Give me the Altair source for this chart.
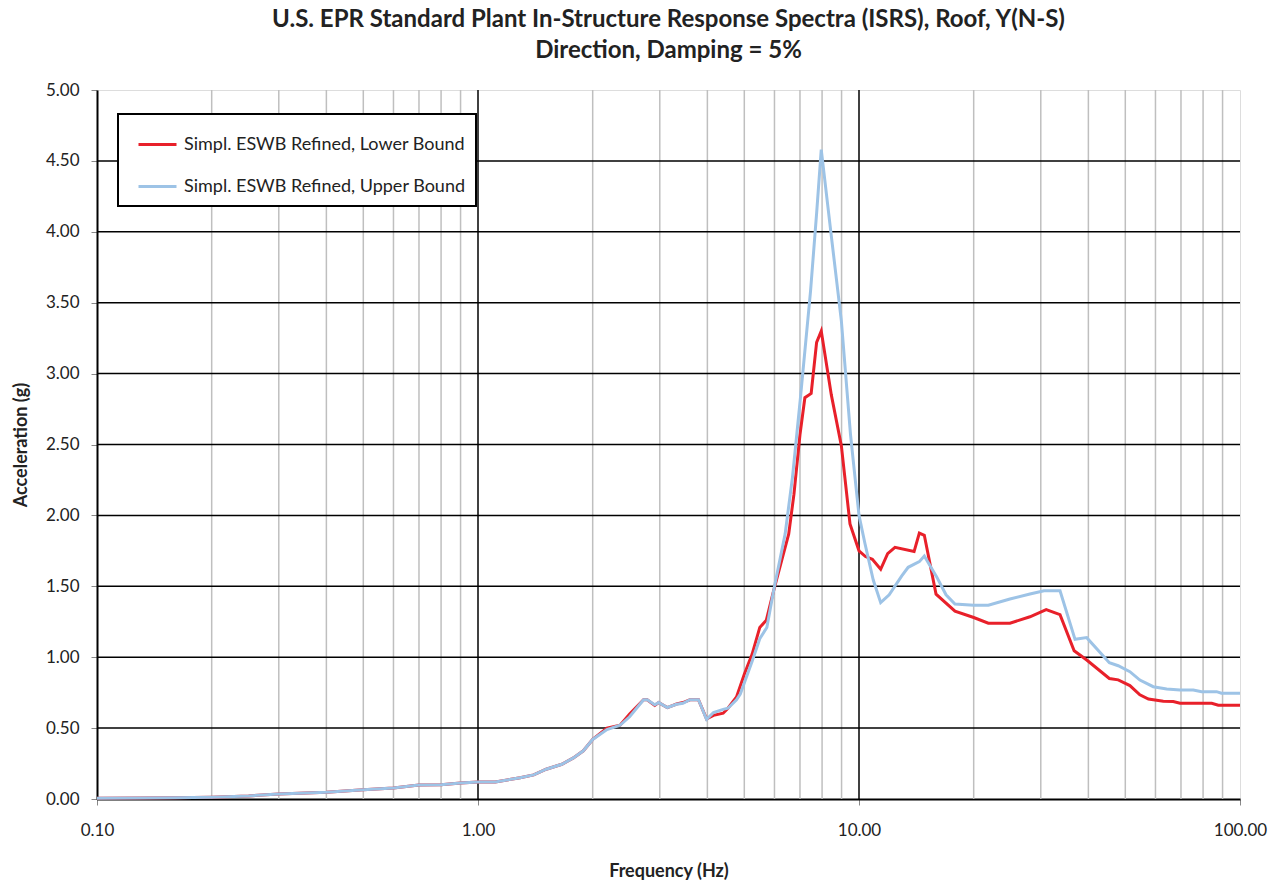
import altair as alt
import pandas as pd

# ---- data ----
series_names = ["Simpl. ESWB Refined, Lower Bound", "Simpl. ESWB Refined, Upper Bound"]

low_freq = [0.1, 0.13, 0.16, 0.2, 0.25, 0.3, 0.4, 0.5, 0.6, 0.7, 0.8, 0.9, 1.0, 1.11, 1.29, 1.4,
            1.51, 1.66, 1.78, 1.89, 2.0, 2.18, 2.36, 2.5, 2.72, 2.78, 2.91, 2.98, 3.14, 3.32, 3.45,
            3.6, 3.79, 3.98, 4.15, 4.4, 4.53, 4.77, 5.0, 5.24, 5.49, 5.71, 5.97, 6.25, 6.54, 6.75,
            7.0, 7.21, 7.49, 7.74, 7.96, 8.46, 8.99, 9.47, 10.0, 10.4, 10.84, 11.4, 11.89, 12.43,
            13.95, 14.4, 14.84, 15.93, 17.86, 20.0, 21.85, 24.9, 28.1, 31.0, 33.7, 36.7, 39.6,
            45.4, 47.9, 51.4, 54.6, 57.5, 62.9, 66.8, 69.6, 84.3, 87.7, 100.0]
low_acc = [0.005, 0.007, 0.009, 0.013, 0.022, 0.035, 0.048, 0.065, 0.078, 0.098, 0.100, 0.112,
           0.120, 0.120, 0.150, 0.170, 0.210, 0.245, 0.290, 0.340, 0.420, 0.500, 0.520, 0.600,
           0.700, 0.700, 0.660, 0.680, 0.645, 0.670, 0.680, 0.700, 0.700, 0.565, 0.590, 0.605,
           0.640, 0.720, 0.880, 1.020, 1.210, 1.260, 1.470, 1.670, 1.870, 2.150, 2.570, 2.830,
           2.860, 3.220, 3.300, 2.850, 2.490, 1.940, 1.750, 1.710, 1.690, 1.620, 1.730, 1.775,
           1.745, 1.875, 1.860, 1.445, 1.325, 1.280, 1.240, 1.240, 1.285, 1.335, 1.300, 1.045,
           0.980, 0.850, 0.840, 0.800, 0.735, 0.705, 0.690, 0.687, 0.675, 0.675, 0.661, 0.661]

up_freq = [0.1, 0.13, 0.16, 0.2, 0.25, 0.3, 0.4, 0.5, 0.6, 0.7, 0.8, 0.9, 1.0, 1.11, 1.29, 1.4,
           1.51, 1.66, 1.78, 1.89, 2.0, 2.18, 2.36, 2.5, 2.72, 2.78, 2.91, 2.98, 3.14, 3.32, 3.45,
           3.6, 3.79, 3.98, 4.15, 4.4, 4.53, 4.77, 4.88, 5.24, 5.49, 5.73, 5.97, 6.4, 6.69, 7.02,
           7.46, 7.74, 7.96, 8.46, 8.99, 9.5, 10.0, 10.37, 10.9, 11.4, 12.0, 12.95, 13.46, 14.4,
           14.84, 15.98, 16.92, 17.86, 20.0, 21.85, 24.9, 28.1, 30.6, 33.7, 36.9, 39.6, 45.4,
           47.9, 51.4, 54.6, 59.2, 64.2, 69.6, 75.4, 79.3, 86.8, 89.4, 100.0]
up_acc = [0.005, 0.007, 0.009, 0.013, 0.022, 0.035, 0.048, 0.065, 0.078, 0.098, 0.100, 0.112,
          0.120, 0.120, 0.150, 0.170, 0.210, 0.245, 0.290, 0.340, 0.420, 0.490, 0.520, 0.580,
          0.700, 0.700, 0.665, 0.680, 0.645, 0.668, 0.675, 0.700, 0.700, 0.562, 0.610, 0.632,
          0.640, 0.700, 0.740, 0.970, 1.130, 1.210, 1.470, 1.870, 2.270, 2.830, 3.580, 4.130,
          4.580, 3.970, 3.370, 2.570, 2.000, 1.800, 1.544, 1.385, 1.440, 1.573, 1.634, 1.674,
          1.714, 1.568, 1.440, 1.375, 1.366, 1.366, 1.410, 1.446, 1.469, 1.469, 1.126, 1.138,
          0.961, 0.940, 0.898, 0.839, 0.792, 0.776, 0.769, 0.769, 0.757, 0.757, 0.746, 0.746]

x_ticks = [0.1, 1, 10, 100]
y_ticks = [0.0, 0.5, 1.0, 1.5, 2.0, 2.5, 3.0, 3.5, 4.0, 4.5, 5.0]
minor_x_grid = [0.2, 0.3, 0.4, 0.5, 0.6, 0.7, 0.8, 0.9, 2, 3, 4, 5, 6, 7, 8, 9,
                20, 30, 40, 50, 60, 70, 80, 90]
major_x_grid = [1, 10]
major_y_grid = [0.5, 1.0, 1.5, 2.0, 2.5, 3.0, 3.5, 4.0, 4.5]

title_lines = ["U.S. EPR Standard Plant In-Structure Response Spectra (ISRS), Roof, Y(N-S)",
               "Direction, Damping = 5%"]

# ---- build tables ----
df = pd.concat([
    pd.DataFrame({"freq": low_freq, "acc": low_acc, "series": series_names[0], "order": range(len(low_freq))}),
    pd.DataFrame({"freq": up_freq, "acc": up_acc, "series": series_names[1], "order": range(len(up_freq))}),
])

FONT = "Lato"
TXT = "#222222"
xscale = alt.Scale(type="log", domain=[0.1, 100], nice=False)
yscale = alt.Scale(domain=[0, 5], nice=False)

xaxis = alt.Axis(title="Frequency (Hz)", values=x_ticks, labelExpr="format(datum.value, '.2f')",
                 grid=False, tickSize=6, tickColor="#888888", domainColor="#000000",
                 domainWidth=2, labelFontSize=17, labelPadding=17, labelFont=FONT,
                 labelColor=TXT, titleFont=FONT, titleFontSize=18, titleFontWeight="bold",
                 titleColor=TXT, titlePadding=24, labelFlush=False)
yaxis = alt.Axis(title="Acceleration (g)", values=y_ticks, format=".2f", grid=False,
                 tickSize=6, tickColor="#888888", domainColor="#000000", domainWidth=2,
                 labelFontSize=17, labelPadding=12, labelFont=FONT, labelColor=TXT,
                 titleFont=FONT, titleFontSize=18, titleFontWeight="bold",
                 titleColor=TXT, titlePadding=15)

minor = alt.Chart(pd.DataFrame({"freq": minor_x_grid})).mark_rule(color="#BFBFBF", strokeWidth=1.5).encode(
    x=alt.X("freq:Q", scale=xscale, axis=xaxis))
majx = alt.Chart(pd.DataFrame({"freq": major_x_grid})).mark_rule(color="#000000", strokeWidth=1.5).encode(
    x=alt.X("freq:Q", scale=xscale, axis=xaxis))
majy = alt.Chart(pd.DataFrame({"acc": major_y_grid})).mark_rule(color="#000000", strokeWidth=1.5).encode(
    y=alt.Y("acc:Q", scale=yscale, axis=yaxis))

lines = alt.Chart(df).mark_line(strokeWidth=3).encode(
    x=alt.X("freq:Q", scale=xscale, axis=xaxis),
    y=alt.Y("acc:Q", scale=yscale, axis=yaxis),
    color=alt.Color("series:N",
                    scale=alt.Scale(domain=series_names, range=["#E8202A", "#9DC3E6"]),
                    legend=alt.Legend(title=None, orient="none", legendX=21, legendY=24,
                                      symbolType="stroke", symbolSize=1444, symbolStrokeWidth=3,
                                      symbolOffset=9,
                                      labelFontSize=18, labelFont=FONT, labelColor=TXT,
                                      rowPadding=12, padding=10, strokeColor="#000000",
                                      fillColor="#FFFFFF", labelLimit=400,
                                      labelOffset=6)),
    order="order:Q",
)

chart = alt.layer(minor, majx, majy, lines).properties(
    width=1143, height=709,
    title=alt.TitleParams(text=title_lines, font=FONT, fontSize=24, fontWeight="bold",
                          color=TXT, anchor="middle", lineHeight=31, offset=18),
    autosize=alt.AutoSizeParams(type="none"),
    padding={"left": 97, "top": 90, "right": 40, "bottom": 87},
).configure_view(stroke="#000000", strokeWidth=1.5).configure(background="white"
).configure_legend(strokeWidth=2)

chart.save("out.html", embed_options={"renderer": "svg", "actions": False})
